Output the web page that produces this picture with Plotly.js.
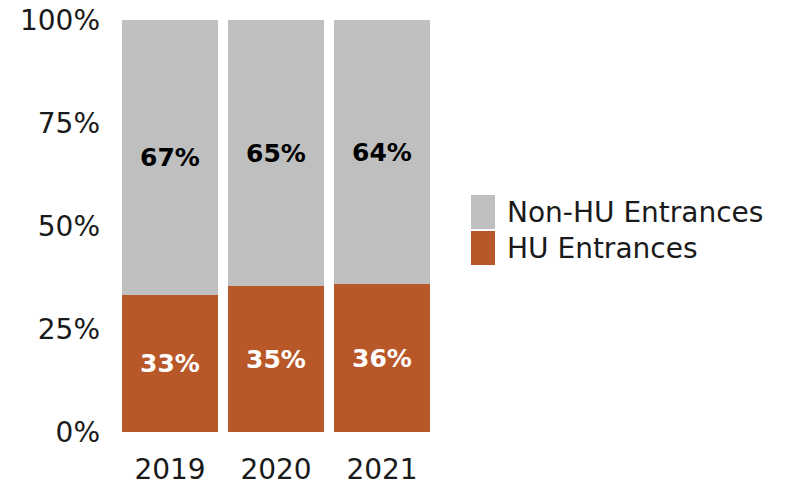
<!DOCTYPE html>
<html>
<head>
<meta charset="utf-8">
<script src="https://cdn.plot.ly/plotly-3.0.1.min.js"></script>
<style>html,body{margin:0;padding:0;background:#fff;}#chart{width:786px;height:487px;}</style>
</head>
<body>
<div id="chart"></div>
<script>
const years = ['2019', '2020', '2021'];
const huValues = [33.3, 35.4, 35.9];
const nonHuValues = [66.7, 64.6, 64.1];
const huLabels = ['33%', '35%', '36%'];
const nonHuLabels = ['67%', '65%', '64%'];
const seriesNames = ['Non-HU Entrances', 'HU Entrances'];
const seriesColors = ['#BFBFBF', '#B85728'];
const yTicks = [0, 25, 50, 75, 100];
const yTickLabels = ['0%', '25%', '50%', '75%', '100%'];

const font = 'DejaVu Sans, Liberation Sans, Arial, sans-serif';

const traces = [
  {
    type: 'bar', x: years, y: huValues, name: seriesNames[1],
    marker: {color: seriesColors[1]},
    text: huLabels, textposition: 'inside', insidetextanchor: 'middle',
    textfont: {family: font, size: 25, color: '#ffffff', weight: 'bold'},
    hoverinfo: 'skip'
  },
  {
    type: 'bar', x: years, y: nonHuValues, name: seriesNames[0],
    marker: {color: seriesColors[0]},
    text: nonHuLabels, textposition: 'inside', insidetextanchor: 'middle',
    textfont: {family: font, size: 25, color: '#000000', weight: 'bold'},
    hoverinfo: 'skip'
  }
];

// custom legend (large swatches like the reference)
const L = 117, R = 435, T = 20, B = 432;
const px = v => (v - L) / (R - L);
const py = v => (B - v) / (B - T);
const legendRows = [{top: 195, bot: 229}, {top: 231, bot: 265}];
const shapes = [];
const annotations = [];
seriesNames.forEach((name, i) => {
  const r = legendRows[i];
  shapes.push({type: 'rect', xref: 'paper', yref: 'paper',
    x0: px(471), x1: px(495), y0: py(r.bot), y1: py(r.top),
    fillcolor: seriesColors[i], line: {width: 0}});
  annotations.push({xref: 'paper', yref: 'paper', x: px(505), y: py((r.top + r.bot) / 2),
    xanchor: 'left', yanchor: 'middle', text: name, showarrow: false,
    font: {family: font, size: 28, color: '#1a1a1a'}});
});

const layout = {
  width: 786, height: 487,
  margin: {l: L, r: 786 - R, t: T, b: 487 - B, pad: 0},
  paper_bgcolor: '#ffffff', plot_bgcolor: '#ffffff',
  barmode: 'stack', bargap: 0.09,
  showlegend: false,
  xaxis: {
    type: 'category', showgrid: false, zeroline: false, showline: false, ticks: '',
    tickfont: {family: font, size: 28, color: '#1a1a1a'},
    ticklabelstandoff: 18
  },
  yaxis: {
    range: [0, 100], tickvals: yTicks, ticktext: yTickLabels,
    showgrid: false, zeroline: false, showline: false, ticks: '',
    tickfont: {family: font, size: 28, color: '#1a1a1a'},
    ticklabelstandoff: 16
  },
  shapes: shapes,
  annotations: annotations
};

Plotly.newPlot('chart', traces, layout, {displayModeBar: false, staticPlot: true});
</script>
</body>
</html>
